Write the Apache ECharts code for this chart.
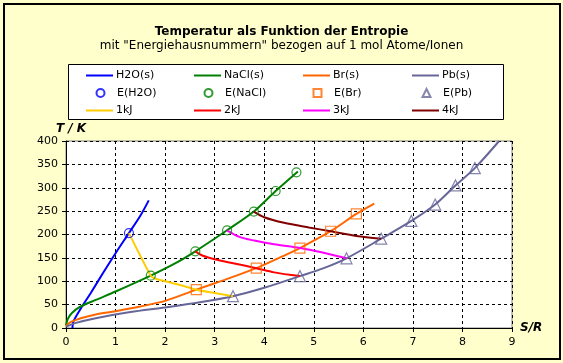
<!DOCTYPE html>
<html>
<head>
<meta charset="utf-8">
<script src="https://cdn.jsdelivr.net/npm/echarts@6/dist/echarts.min.js"></script>
<style>html,body{margin:0;padding:0;background:#FFFFCC;}#c{width:563px;height:363px;}</style>
</head>
<body>
<div id="c"></div>
<script>
// Lines [S/R, T/K]
var h2oS = [[0.13,0],[0.15,14],[0.3,42],[0.5,75],[0.75,118],[1.0,160],[1.27,203],[1.5,240],[1.67,273]];
var naclS = [[0,6],[0.04,20],[0.12,32],[0.28,45],[0.6,60],[1.0,78],[1.71,112],[2.2,138],[2.61,164],[3.25,209],[3.79,249],[4.23,293],[4.68,335]];
var brS = [[0,5],[0.1,13],[0.3,21],[0.6,29],[1.0,36],[1.5,46],[2.0,58],[2.63,82],[3.2,103],[3.84,128],[4.3,150],[4.72,171],[5.34,207],[5.86,244],[6.22,266]];
var pbS = [[0,3],[0.2,11],[0.6,21],[1.3,34],[2.0,44],[2.7,55],[3.37,68],[4.0,86],[4.72,111],[5.2,128],[5.66,149],[6.36,191],[6.97,229],[7.45,264],[7.86,305],[8.25,342],[8.74,400]];
// Energy markers
var eH2O = [[1.27,203]];
var eNaCl = [[1.71,112],[2.61,164],[3.25,209],[3.79,249],[4.23,293],[4.65,333]];
var eBr = [[2.63,82],[3.84,128],[4.72,171],[5.34,207],[5.86,244]];
var ePb = [[3.37,68],[4.72,111],[5.66,149],[6.36,191],[6.97,229],[7.45,264],[7.86,305],[8.25,342]];
// Iso-energy lines
var kj1 = [[1.27,203],[1.71,112],[1.8,106],[2.0,100],[2.3,92],[2.63,82],[3.0,75],[3.37,68]];
var kj2 = [[2.61,164],[2.75,155],[3.0,147],[3.4,138],[3.84,128],[4.2,119],[4.72,111]];
var kj3 = [[3.25,209],[3.5,195],[3.8,187],[4.2,179],[4.72,171],[5.2,161],[5.66,149]];
var kj4 = [[3.79,249],[4.0,237],[4.4,225],[4.9,215],[5.34,207],[5.86,197],[6.36,191]];
var xTicks = [0,1,2,3,4,5,6,7,8,9];
var yTicks = [0,50,100,150,200,250,300,350,400];

var FONT = 'DejaVu Sans';
function line(name, data, color, smooth) {
  return {name: name, type: 'line', data: data, symbol: 'none', smooth: smooth,
    lineStyle: {color: color, width: 2}, itemStyle: {color: color}, z: 2, animation: false};
}
function marks(name, data, color, sym, size) {
  return {name: name, type: 'scatter', data: data, symbol: sym, symbolSize: size,
    itemStyle: {color: 'rgba(0,0,0,0)', borderColor: color, borderWidth: 1.2}, z: 5, animation: false};
}
var colX = [86, 194, 303, 412];
var rowY = [75.5, 93, 110.5];
var legendRows = [
  ['H2O(s)', 'NaCl(s)', 'Br(s)', 'Pb(s)'],
  ['E(H2O)', 'E(NaCl)', 'E(Br)', 'E(Pb)'],
  ['1kJ', '2kJ', '3kJ', '4kJ']
];
var legends = [];
legendRows.forEach(function (row, r) {
  row.forEach(function (nm, c) {
    var isMark = (r === 1);
    var sz = isMark ? 8 : 27;
    var left = isMark ? colX[c] + 13.5 - 4 : colX[c];
    var l = {orient: 'horizontal', left: left, top: rowY[r] - 7, padding: 0,
      itemWidth: sz, itemHeight: isMark ? 8 : 2, data: [nm], selectedMode: false,
      textStyle: {fontFamily: FONT, fontSize: 11, color: '#000', lineHeight: 14,
        padding: [0, 0, 0, (colX[c] + 30) - (left + sz + 5)]}};
    if (!isMark) l.icon = 'rect';
    legends.push(l);
  });
});
var chart = echarts.init(document.getElementById('c'), null, {renderer: 'canvas'});
chart.setOption({
  backgroundColor: '#FFFFCC',
  animation: false,
  title: {text: 'Temperatur als Funktion der Entropie',
    subtext: 'mit "Energiehausnummern" bezogen auf 1 mol Atome/Ionen',
    left: 'center', top: 25, itemGap: 0, padding: 0,
    textStyle: {fontFamily: FONT, fontSize: 12, fontWeight: 'bold', color: '#000', lineHeight: 14},
    subtextStyle: {fontFamily: FONT, fontSize: 12, color: '#000', lineHeight: 14}},
  graphic: [
    {type: 'rect', shape: {x: 4, y: 4, width: 556, height: 355}, style: {fill: 'none', stroke: '#000', lineWidth: 2}, z: 100},
    {type: 'rect', shape: {x: 68.5, y: 64.5, width: 435, height: 55}, style: {fill: '#fff', stroke: '#000', lineWidth: 1}, z: -1}
  ],
  legend: legends,
  grid: {left: 66, right: 51, top: 141, bottom: 35, show: true, backgroundColor: '#fff', borderColor: '#808080', borderWidth: 1},
  xAxis: {type: 'value', min: xTicks[0], max: xTicks[xTicks.length-1], interval: 1,
    name: 'S/R', nameLocation: 'end', nameGap: 8,
    nameTextStyle: {fontFamily: FONT, fontSize: 12, fontWeight: 'bold', fontStyle: 'italic', color: '#000', verticalAlign: 'middle'},
    axisLine: {lineStyle: {color: '#000', width: 1}},
    axisTick: {show: true, length: 4, lineStyle: {color: '#000'}},
    axisLabel: {fontFamily: FONT, fontSize: 11, color: '#000', margin: 9},
    splitLine: {show: true, lineStyle: {color: '#000', type: [3,3], width: 1}}},
  yAxis: {type: 'value', min: yTicks[0], max: yTicks[yTicks.length-1], interval: 50,
    name: 'T / K', nameLocation: 'end', nameGap: 6,
    nameTextStyle: {fontFamily: FONT, fontSize: 12, fontWeight: 'bold', fontStyle: 'italic', color: '#000', padding: [0,0,0,10]},
    axisLine: {show: true, lineStyle: {color: '#000', width: 1}},
    axisTick: {show: true, length: 4, lineStyle: {color: '#000'}},
    axisLabel: {fontFamily: FONT, fontSize: 11, color: '#000', margin: 8},
    splitLine: {show: true, lineStyle: {color: '#000', type: [3,3], width: 1}}},
  series: [
    line('H2O(s)', h2oS, '#0000FF', 0.3),
    line('NaCl(s)', naclS, '#008000', 0.3),
    line('Br(s)', brS, '#FF6600', 0.3),
    line('Pb(s)', pbS, '#666699', 0.3),
    marks('E(H2O)', eH2O, '#0000FF', 'circle', 9),
    marks('E(NaCl)', eNaCl, '#008000', 'circle', 9),
    marks('E(Br)', eBr, '#FF6600', 'rect', 10),
    marks('E(Pb)', ePb, '#666699', 'triangle', 11),
    line('1kJ', kj1, '#FFCC00', 0.2),
    line('2kJ', kj2, '#FF0000', 0.3),
    line('3kJ', kj3, '#FF00FF', 0.3),
    line('4kJ', kj4, '#800000', 0.3)
  ]
});
</script>
</body>
</html>
